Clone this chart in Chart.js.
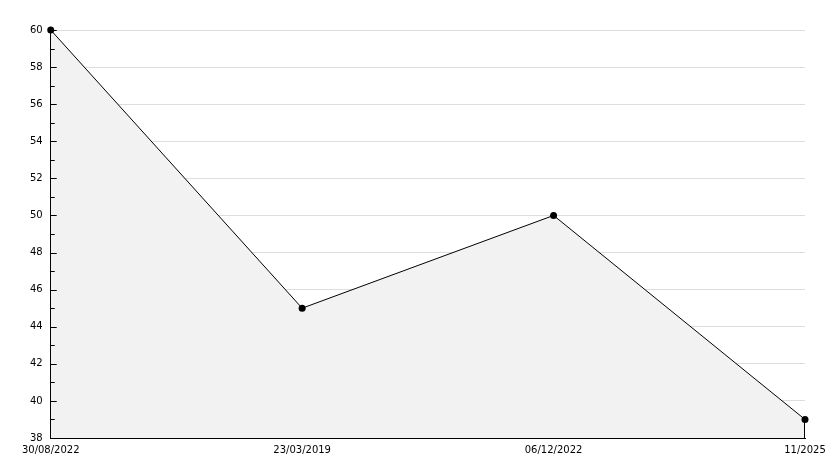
<!DOCTYPE html>
<html>
<head>
<meta charset="utf-8">
<script src="https://cdn.jsdelivr.net/npm/chart.js@4/dist/chart.umd.min.js"></script>
<style>
  html, body { margin: 0; padding: 0; background: #fff; }
  #wrap { width: 834px; height: 468px; }
</style>
</head>
<body>
<div id="wrap"><canvas id="canvas"></canvas></div>
<script>
const labels = ['30/08/2022', '23/03/2019', '06/12/2022', '11/2025'];
const values = [60, 45, 50, 39];
const yMin = 38;
const yMax = 60;

// right edge of the filled area + small tick marks inside the y axis
const extras = {
  id: 'extras',
  afterDatasetsDraw(chart) {
    const ctx = chart.ctx;
    const area = chart.chartArea;
    const y = chart.scales.y;
    ctx.save();
    ctx.strokeStyle = '#000';
    ctx.lineWidth = 1;
    ctx.beginPath();
    y.ticks.forEach(t => {
      if (t.value === yMin) return;
      const py = Math.round(y.getPixelForValue(t.value)) + 0.5;
      const len = t.value % 2 === 0 ? 6 : 4;
      ctx.moveTo(area.left, py);
      ctx.lineTo(area.left + len, py);
    });
    const meta = chart.getDatasetMeta(0);
    const last = meta.data[meta.data.length - 1];
    const px = Math.round(last.x) - 0.5;
    ctx.moveTo(px, last.y);
    ctx.lineTo(px, area.bottom);
    ctx.stroke();
    ctx.restore();
  }
};

Chart.defaults.font.family = '"DejaVu Sans", Verdana, sans-serif';
Chart.defaults.font.size = 10;
Chart.defaults.color = '#000';

new Chart(document.getElementById('canvas'), {
  type: 'line',
  data: {
    labels: labels,
    datasets: [{
      data: values,
      fill: 'start',
      clip: false,
      backgroundColor: '#f2f2f2',
      borderColor: '#000',
      borderWidth: 1,
      tension: 0,
      pointRadius: 3.5,
      pointBackgroundColor: '#000',
      pointBorderColor: '#000',
      pointBorderWidth: 0
    }]
  },
  options: {
    responsive: true,
    maintainAspectRatio: false,
    animation: false,
    layout: { padding: { top: 30, right: 29, bottom: 6, left: 22 } },
    plugins: { legend: { display: false }, tooltip: { enabled: false } },
    scales: {
      x: {
        offset: false,
        grid: { display: false, drawTicks: false },
        border: { display: true, color: '#000' },
        ticks: { padding: 6, maxRotation: 0, autoSkip: false }
      },
      y: {
        min: yMin,
        max: yMax,
        grid: {
          color: (c) => (c.tick && c.tick.value % 2 !== 0) ? 'rgba(0,0,0,0)' : '#dddddd',
          drawTicks: false
        },
        border: { display: true, color: '#000' },
        ticks: {
          stepSize: 1,
          autoSkip: false,
          padding: 8,
          callback: (v) => (v % 2 === 0 ? v : '')
        }
      }
    }
  },
  plugins: [extras]
});
</script>
</body>
</html>
